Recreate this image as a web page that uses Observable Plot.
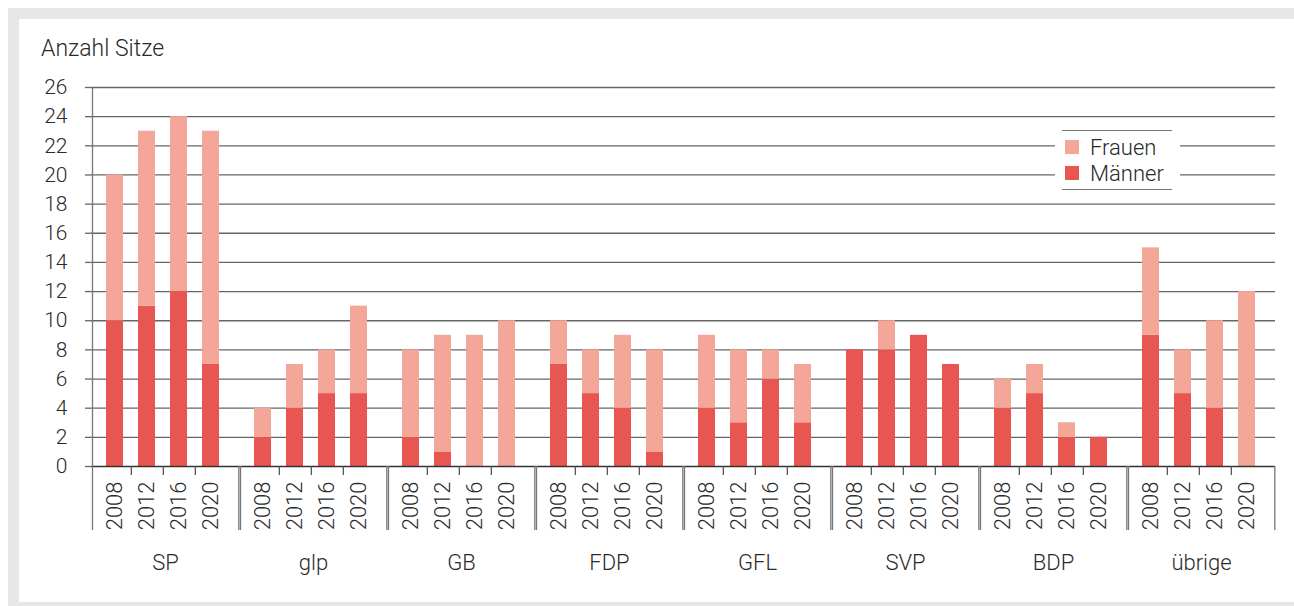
<!DOCTYPE html>
<html><head><meta charset="utf-8">
<script src="https://cdn.jsdelivr.net/npm/d3@7"></script>
<script src="https://cdn.jsdelivr.net/npm/@observablehq/plot@0.6"></script>
<style>
body{margin:0;background:#fff;font-family:Roboto,"Liberation Sans",sans-serif;color:#2a2a2a}
#wrap{position:relative;width:1294px;height:606px;overflow:hidden;background:#fff}
#frame{position:absolute;left:8px;top:8px;width:1286px;height:598px;box-sizing:border-box;border-top:11px solid #e6e7e8;border-left:11px solid #e6e7e8;border-bottom:4px solid #e6e7e8}
#chart{position:absolute;left:0;top:0}
#title{position:absolute;left:41px;top:36px;font-size:23px;line-height:26px;font-weight:300;color:#2a2a2a;white-space:nowrap}
#legend{position:absolute;left:1055px;top:124px;width:125px;height:72px;background:#fff}
#legend .box{position:absolute;left:7px;right:8px;top:6px;bottom:6px;border-top:1.3px solid #777;border-bottom:1.3px solid #777}
#legend .sw{position:absolute;left:10px;width:14px;height:14px}
#legend .lb{position:absolute;left:35px;font-size:22px;line-height:24px;font-weight:300;color:#2a2a2a;white-space:nowrap}
</style></head>
<body>
<div id="wrap">
  <div id="frame"></div>
  <div id="chart"></div>
  <div id="title">Anzahl Sitze</div>
  <div id="legend">
    <div class="box"></div>
    <div class="sw" style="top:16px;background:#f4a799"></div>
    <div class="lb" style="top:12px">Frauen</div>
    <div class="sw" style="top:42px;background:#e85651"></div>
    <div class="lb" style="top:38px">Männer</div>
  </div>
</div>
<script>
const parties = ["SP","glp","GB","FDP","GFL","SVP","BDP","übrige"];
const years = ["2008","2012","2016","2020"];
const maenner = [[10,11,12,7],[2,4,5,5],[2,1,0,0],[7,5,4,1],[4,3,6,3],[8,8,9,7],[4,5,2,2],[9,5,4,0]];
const frauen  = [[10,12,12,16],[2,3,3,6],[6,8,9,10],[3,3,5,7],[5,5,2,4],[0,2,0,0],[2,2,1,0],[6,3,6,12]];
const yTicks = [0,2,4,6,8,10,12,14,16,18,20,22,24,26];
const seriesNames = ["Männer","Frauen"];
const seriesColors = ["#e85651","#f4a799"];

const rows = [];
parties.forEach((p,i)=>years.forEach((y,j)=>rows.push({party:p,year:y,sex:"Männer",value:maenner[i][j]})));
parties.forEach((p,i)=>years.forEach((y,j)=>rows.push({party:p,year:y,sex:"Frauen",value:frauen[i][j]})));

const width = 1294, height = 606, mL = 89, mR = 18, mT = 87, mB = 140;
const n = years.length;
const fw = (width - mL - mR) / parties.length;
const pI = 0.48, pO = 0.51, align = 0.42;
const step = fw / (n - pI + 2*pO);
const bw = step * (1 - pI);
const start = (fw - step*(n - pI)) * align;
const dxLeft = -(start + bw/2);
const dxRight = fw - (start + step*(n-1) + bw/2);
const gridColor = "#666";

const chart = Plot.plot({
  width, height, marginLeft: mL, marginRight: mR, marginTop: mT, marginBottom: mB,
  style: {fontFamily: "Roboto, 'Liberation Sans', sans-serif", fontSize: "21px", fontWeight: 300, color: "#2a2a2a", background: "transparent", overflow: "visible"},
  fx: {domain: parties, padding: 0, label: null},
  x: {domain: years, paddingInner: pI, paddingOuter: pO, align, label: null},
  y: {domain: [0, 26], label: null},
  color: {domain: seriesNames, range: seriesColors},
  marks: [
    Plot.ruleY(yTicks.filter(d => d > 0), {stroke: gridColor, strokeWidth: 1.3}),
    Plot.axisY({ticks: yTicks, tickSize: 6, tickPadding: 18, stroke: gridColor, strokeWidth: 1.3, fontSize: 21, label: null}),
    Plot.barY(rows, {fx: "party", x: "year", y: "value", fill: "sex"}),
    Plot.ruleY([0], {stroke: "#333", strokeWidth: 1.3}),
    Plot.ruleX(years.slice(0, 3), {x: d => d, dx: step/2, y1: 0, y2: 0, insetBottom: -9, stroke: "#555", strokeWidth: 1.3}),
    Plot.ruleX([years[0]], {x: d => d, dx: dxLeft, y1: 0, y2: 0, insetBottom: -64, stroke: "#777", strokeWidth: 1.3}),
    Plot.ruleX([years[n-1]], {x: d => d, dx: dxRight, y1: 0, y2: 0, insetBottom: -64, stroke: "#777", strokeWidth: 1.3}),
    Plot.ruleX([parties[0]], {fx: d => d, x: () => years[0], dx: dxLeft, y1: 0, y2: 26, stroke: "#777", strokeWidth: 1.3}),
    Plot.axisX({tickRotate: -90, tickSize: 0, tickPadding: 15, fontSize: 22, label: null}),
    Plot.axisFx({anchor: "bottom", tickSize: 0, tickPadding: 88, fontSize: 22, label: null})
  ]
});
document.getElementById("chart").appendChild(chart);
</script>
</body></html>
